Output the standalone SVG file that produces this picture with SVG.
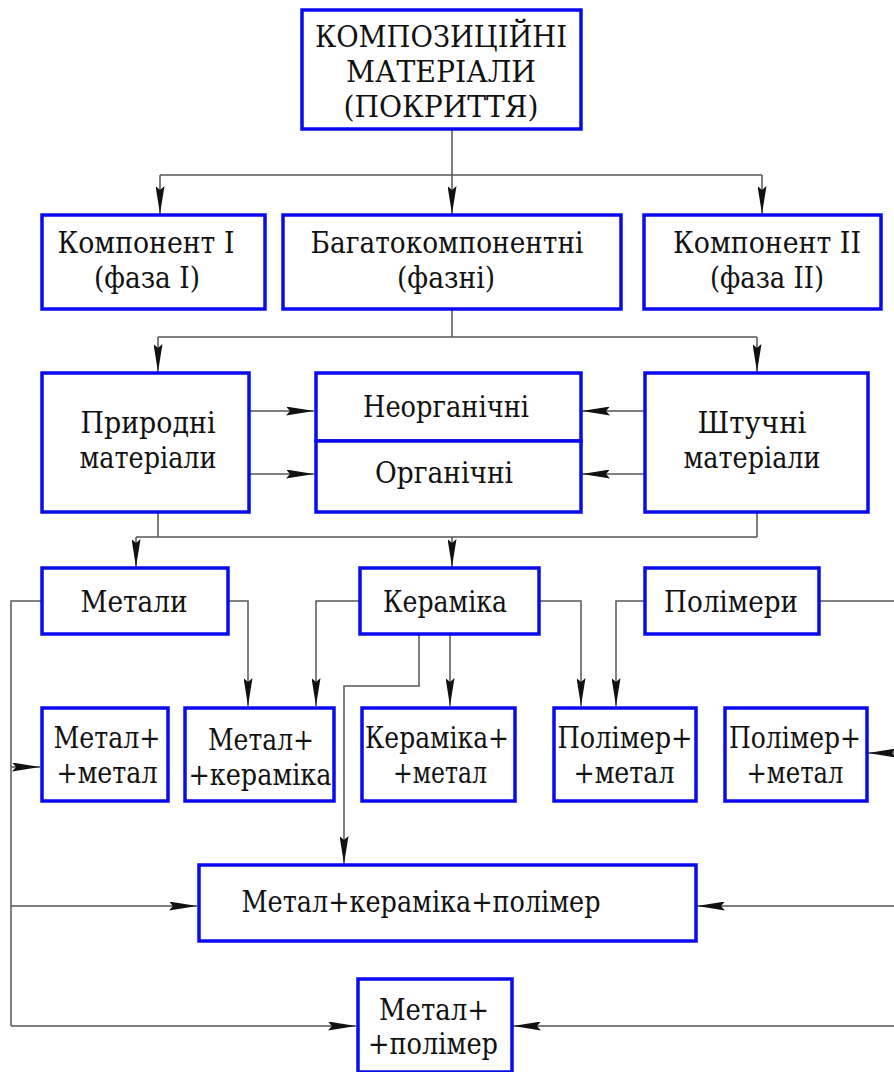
<svg xmlns="http://www.w3.org/2000/svg" width="894" height="1072" viewBox="0 0 894 1072">
<defs>
<marker id="ah" viewBox="0 0 28 9" refX="28" refY="4.5" markerWidth="28" markerHeight="9" markerUnits="userSpaceOnUse" orient="auto">
<path d="M0,0 L28,4.5 L0,9 L4,4.5 Z" fill="#111"/>
</marker>
<style>
.box{fill:#fff;stroke:#0a0aee;stroke-width:3.5}
.t{font-family:'DejaVu Serif',serif;font-size:29.5px;fill:#111;text-anchor:middle}
.c{fill:none;stroke:#555;stroke-width:1.5}
.a{marker-end:url(#ah)}
</style>
</defs>
<rect width="894" height="1072" fill="#fff"/>
<g id="connectors">
<path class="c" d="M452,130 V175"/>
<path class="c" d="M160,175 H762"/>
<path class="c a" d="M160,175 V214"/>
<path class="c a" d="M452,175 V214"/>
<path class="c a" d="M762,175 V214"/>
<path class="c" d="M452,309 V337"/>
<path class="c" d="M158,337 H757"/>
<path class="c a" d="M158,337 V372"/>
<path class="c a" d="M757,337 V372"/>
<path class="c a" d="M249,411 H314"/>
<path class="c a" d="M249,474 H314"/>
<path class="c a" d="M644,411 H582"/>
<path class="c a" d="M644,474 H582"/>
<path class="c" d="M158,512 V537"/>
<path class="c" d="M757,512 V537"/>
<path class="c" d="M136,537 H757"/>
<path class="c a" d="M136,537 V567"/>
<path class="c a" d="M452,537 V567"/>
<path class="c" d="M41,601 H11 V1026"/>
<path class="c a" d="M11,767 H40"/>
<path class="c a" d="M11,906 H197"/>
<path class="c a" d="M11,1026 H356"/>
<path class="c a" d="M228,601 H248 V706"/>
<path class="c a" d="M359,601 H316 V706"/>
<path class="c a" d="M539,601 H581 V706"/>
<path class="c a" d="M450,634 V706"/>
<path class="c a" d="M419,634 V686 H344 V864"/>
<path class="c a" d="M644,601 H616 V706"/>
<path class="c" d="M819,601 H896 V1026"/>
<path class="c a" d="M896,753 H868"/>
<path class="c a" d="M896,906 H697"/>
<path class="c a" d="M896,1026 H513"/>
</g>
<g id="n-kompozytsiini">
<rect class="box" x="302" y="10" width="279" height="119"/>
<text class="t" x="441" y="47" textLength="252" lengthAdjust="spacingAndGlyphs">КОМПОЗИЦІЙНІ</text>
<text class="t" x="441" y="82" textLength="190" lengthAdjust="spacingAndGlyphs">МАТЕРІАЛИ</text>
<text class="t" x="441" y="117" textLength="195" lengthAdjust="spacingAndGlyphs">(ПОКРИТТЯ)</text>
</g>
<g id="n-komponent1">
<rect class="box" x="42" y="215" width="223" height="94"/>
<text class="t" x="146" y="253" textLength="177" lengthAdjust="spacingAndGlyphs">Компонент I</text>
<text class="t" x="147" y="288" textLength="106" lengthAdjust="spacingAndGlyphs">(фаза I)</text>
</g>
<g id="n-bagato">
<rect class="box" x="283" y="215" width="338" height="94"/>
<text class="t" x="447" y="253" textLength="273" lengthAdjust="spacingAndGlyphs">Багатокомпонентні</text>
<text class="t" x="446" y="288" textLength="98" lengthAdjust="spacingAndGlyphs">(фазні)</text>
</g>
<g id="n-komponent2">
<rect class="box" x="644" y="215" width="237" height="94"/>
<text class="t" x="767" y="253" textLength="188" lengthAdjust="spacingAndGlyphs">Компонент II</text>
<text class="t" x="767" y="288" textLength="114" lengthAdjust="spacingAndGlyphs">(фаза II)</text>
</g>
<g id="n-pryrodni">
<rect class="box" x="42" y="373" width="207" height="139"/>
<text class="t" x="148" y="433" textLength="135" lengthAdjust="spacingAndGlyphs">Природні</text>
<text class="t" x="148" y="468" textLength="137" lengthAdjust="spacingAndGlyphs">матеріали</text>
</g>
<g id="n-neorg">
<rect class="box" x="316" y="373" width="265" height="68"/>
<text class="t" x="446" y="417" textLength="166" lengthAdjust="spacingAndGlyphs">Неорганічні</text>
</g>
<g id="n-org">
<rect class="box" x="316" y="441" width="265" height="71"/>
<text class="t" x="444" y="483" textLength="138" lengthAdjust="spacingAndGlyphs">Органічні</text>
</g>
<g id="n-shtuchni">
<rect class="box" x="645" y="373" width="223" height="139"/>
<text class="t" x="752" y="433" textLength="109" lengthAdjust="spacingAndGlyphs">Штучні</text>
<text class="t" x="752" y="468" textLength="137" lengthAdjust="spacingAndGlyphs">матеріали</text>
</g>
<g id="n-metaly">
<rect class="box" x="42" y="568" width="186" height="66"/>
<text class="t" x="134" y="612" textLength="107" lengthAdjust="spacingAndGlyphs">Метали</text>
</g>
<g id="n-keramika">
<rect class="box" x="360" y="568" width="179" height="66"/>
<text class="t" x="445" y="612" textLength="124" lengthAdjust="spacingAndGlyphs">Кераміка</text>
</g>
<g id="n-polimery">
<rect class="box" x="645" y="568" width="174" height="66"/>
<text class="t" x="731" y="612" textLength="134" lengthAdjust="spacingAndGlyphs">Полімери</text>
</g>
<g id="n-mm">
<rect class="box" x="42" y="708" width="126" height="93"/>
<text class="t" x="107" y="748" textLength="107" lengthAdjust="spacingAndGlyphs">Метал+</text>
<text class="t" x="107" y="783" textLength="101" lengthAdjust="spacingAndGlyphs">+метал</text>
</g>
<g id="n-mk">
<rect class="box" x="185" y="708" width="149" height="93"/>
<text class="t" x="261" y="750" textLength="106" lengthAdjust="spacingAndGlyphs">Метал+</text>
<text class="t" x="260" y="785" textLength="143" lengthAdjust="spacingAndGlyphs">+кераміка</text>
</g>
<g id="n-km">
<rect class="box" x="362" y="708" width="153" height="93"/>
<text class="t" x="437" y="748" textLength="144" lengthAdjust="spacingAndGlyphs">Кераміка+</text>
<text class="t" x="440" y="783" textLength="94" lengthAdjust="spacingAndGlyphs">+метал</text>
</g>
<g id="n-pm1">
<rect class="box" x="554" y="708" width="142" height="93"/>
<text class="t" x="625" y="748" textLength="135" lengthAdjust="spacingAndGlyphs">Полімер+</text>
<text class="t" x="624" y="783" textLength="101" lengthAdjust="spacingAndGlyphs">+метал</text>
</g>
<g id="n-pm2">
<rect class="box" x="725" y="708" width="142" height="93"/>
<text class="t" x="795" y="748" textLength="132" lengthAdjust="spacingAndGlyphs">Полімер+</text>
<text class="t" x="795" y="783" textLength="97" lengthAdjust="spacingAndGlyphs">+метал</text>
</g>
<g id="n-mkp">
<rect class="box" x="199" y="865" width="497" height="76"/>
<text class="t" x="421" y="912" textLength="359" lengthAdjust="spacingAndGlyphs">Метал+кераміка+полімер</text>
</g>
<g id="n-mp">
<rect class="box" x="358" y="979" width="154" height="93"/>
<text class="t" x="434" y="1020" textLength="110" lengthAdjust="spacingAndGlyphs">Метал+</text>
<text class="t" x="433" y="1054" textLength="130" lengthAdjust="spacingAndGlyphs">+полімер</text>
</g>
</svg>
